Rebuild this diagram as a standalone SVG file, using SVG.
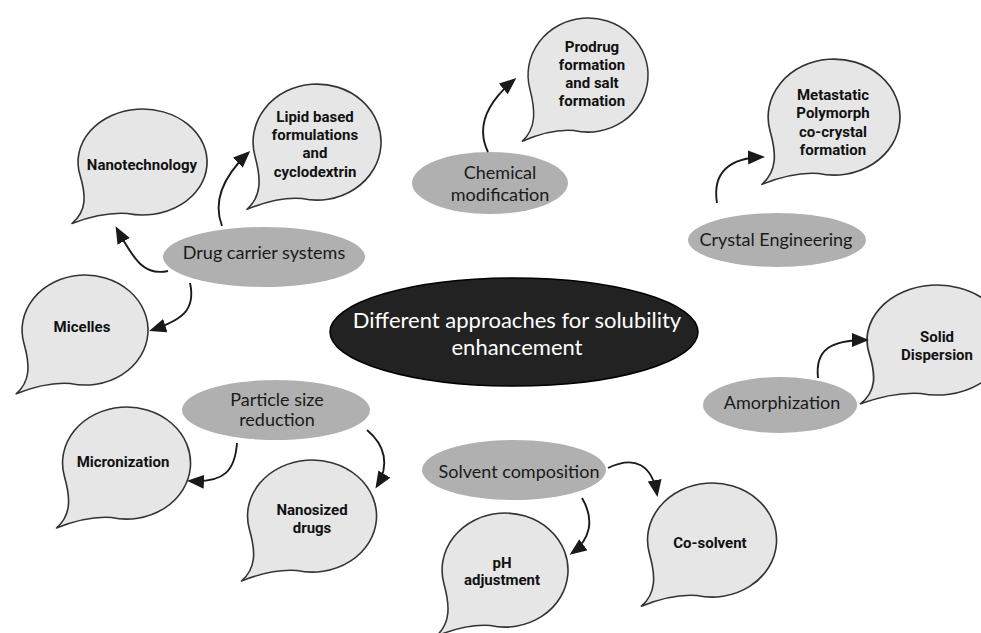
<svg xmlns="http://www.w3.org/2000/svg" width="981" height="633" viewBox="0 0 981 633">
<style>
.bub{fill:#e6e6e6;stroke:#333;stroke-width:1.6;stroke-linejoin:round}
.cat{fill:#b0b0b0}
.bt{font-family:Roboto,"Liberation Sans",sans-serif;font-weight:bold;font-size:15px;fill:#111;text-anchor:middle}
.ct{font-family:Lato,"Liberation Sans",sans-serif;font-size:18px;fill:#1a1a1a;text-anchor:middle}
.mt{font-family:Lato,"Liberation Sans",sans-serif;font-size:22px;fill:#fff;text-anchor:middle}
.arr{fill:none;stroke:#1a1a1a;stroke-width:1.9;marker-end:url(#ah)}
</style>
<defs>
<path id="bubble" d="M -15,54.5 A 64 56 0 1 0 -62,13.8 C -56,35 -55,52 -70,65 C -55,59 -35,53 -15,54.5 Z"/>
<marker id="ah" markerUnits="userSpaceOnUse" markerWidth="18" markerHeight="15" refX="14" refY="7" orient="auto">
<path d="M0,0 L17,7 L0,14 Z" fill="#1a1a1a"/>
</marker>
</defs>
<rect width="981" height="633" fill="#fff"/>

<g id="center">
<ellipse cx="514" cy="332" rx="184" ry="54" fill="#222" stroke="#000" stroke-width="1.5"/>
<text class="mt" x="517" y="328">Different approaches for solubility</text>
<text class="mt" x="517" y="355">enhancement</text>
</g>

<g id="drug-carrier">
<ellipse class="cat" cx="264" cy="257" rx="101" ry="30"/>
<text class="ct" x="264" y="259">Drug carrier systems</text>
</g>
<g id="chemical">
<ellipse class="cat" cx="490" cy="183" rx="78" ry="31"/>
<text class="ct" x="500" y="179">Chemical</text>
<text class="ct" x="500" y="201">modification</text>
</g>
<g id="crystal">
<ellipse class="cat" cx="777" cy="240" rx="89" ry="27"/>
<text class="ct" x="776" y="246">Crystal Engineering</text>
</g>
<g id="amorph">
<ellipse class="cat" cx="780" cy="405" rx="77" ry="28"/>
<text class="ct" x="782" y="409">Amorphization</text>
</g>
<g id="particle">
<ellipse class="cat" cx="276" cy="410" rx="94" ry="30"/>
<text class="ct" x="277" y="406">Particle size</text>
<text class="ct" x="277" y="426">reduction</text>
</g>
<g id="solvent">
<ellipse class="cat" cx="514" cy="470" rx="92" ry="30"/>
<text class="ct" x="519" y="478">Solvent composition</text>
</g>

<g id="b-nano">
<use href="#bubble" class="bub" transform="translate(142.5,162) scale(1.008,0.946)"/>
<text class="bt" x="142" y="170">Nanotechnology</text>
</g>
<g id="b-lipid">
<use href="#bubble" class="bub" transform="translate(317,142) scale(1,1.036)"/>
<text class="bt" x="315" y="122">Lipid based</text>
<text class="bt" x="315" y="140">formulations</text>
<text class="bt" x="315" y="158">and</text>
<text class="bt" x="315" y="177">cyclodextrin</text>
</g>
<g id="b-prodrug">
<use href="#bubble" class="bub" transform="translate(588,75) scale(0.9375,1.018)"/>
<text class="bt" x="592" y="52">Prodrug</text>
<text class="bt" x="592" y="70">formation</text>
<text class="bt" x="592" y="88">and salt</text>
<text class="bt" x="592" y="106">formation</text>
</g>
<g id="b-meta">
<use href="#bubble" class="bub" transform="translate(834,117) scale(1.03,1.036)"/>
<text class="bt" x="833" y="100">Metastatic</text>
<text class="bt" x="833" y="118">Polymorph</text>
<text class="bt" x="833" y="137">co-crystal</text>
<text class="bt" x="833" y="155">formation</text>
</g>
<g id="b-micelles">
<use href="#bubble" class="bub" transform="translate(85,330) scale(0.984,0.982)"/>
<text class="bt" x="82" y="332">Micelles</text>
</g>
<g id="b-solid">
<use href="#bubble" class="bub" transform="translate(937,340) scale(1.094,0.982)"/>
<text class="bt" x="937" y="342">Solid</text>
<text class="bt" x="937" y="360">Dispersion</text>
</g>
<g id="b-micron">
<use href="#bubble" class="bub" transform="translate(126.5,463)"/>
<text class="bt" x="123" y="467">Micronization</text>
</g>
<g id="b-nanosized">
<use href="#bubble" class="bub" transform="translate(312,516) scale(1.008,1)"/>
<text class="bt" x="312" y="515">Nanosized</text>
<text class="bt" x="312" y="533">drugs</text>
</g>
<g id="b-ph">
<use href="#bubble" class="bub" transform="translate(505,570) scale(0.984,1.018)"/>
<text class="bt" x="502" y="568">pH</text>
<text class="bt" x="502" y="585">adjustment</text>
</g>
<g id="b-cosolvent">
<use href="#bubble" class="bub" transform="translate(712,540) scale(1.008,1.018)"/>
<text class="bt" x="710" y="548">Co-solvent</text>
</g>

<g id="connectors">
<path class="arr" d="M168,271 C145,276 135,262 117,229"/>
<path class="arr" d="M222,226 C212,200 225,175 248,153"/>
<path class="arr" d="M190,283 C196,310 182,320 152,330"/>
<path class="arr" d="M488,152 C475,125 490,100 514,80"/>
<path class="arr" d="M717,203 C712,172 730,158 762,157"/>
<path class="arr" d="M818,378 C815,350 830,340 866,340"/>
<path class="arr" d="M237,443 C235,470 225,483 190,481"/>
<path class="arr" d="M367,430 C385,445 390,465 377,486"/>
<path class="arr" d="M582,498 C595,520 590,540 572,553"/>
<path class="arr" d="M608,468 C635,455 652,465 657,494"/>
</g>
</svg>
